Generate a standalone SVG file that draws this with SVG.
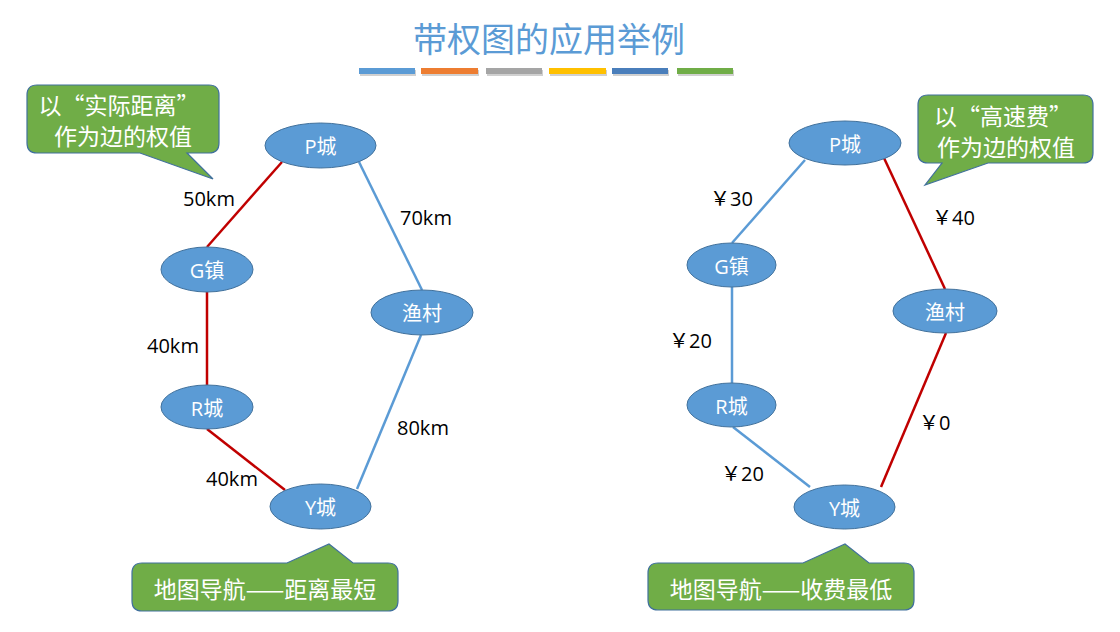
<svg xmlns="http://www.w3.org/2000/svg" width="1120" height="632" viewBox="0 0 1120 632">
<style>
.node ellipse{fill:#5B9BD5;stroke:#41719C;stroke-width:1}
.node text{fill:#fff;font-family:"Open Sans","Noto Sans CJK SC",sans-serif;font-size:20px;text-anchor:middle;dominant-baseline:central}
.blue{stroke:#5B9BD5;stroke-width:2.5;fill:none}
.red{stroke:#C00000;stroke-width:2.5;fill:none}
.lbl{fill:#000;font-family:"Open Sans","Noto Sans CJK SC",sans-serif;font-size:20px;dominant-baseline:central}
.callout path{fill:#70AD47;stroke:#41719C;stroke-width:1.2}
.callout text{fill:#fff;font-family:"Noto Sans CJK SC",sans-serif;font-size:23px;text-anchor:middle;dominant-baseline:central}
</style>
<rect width="1120" height="632" fill="#fff"/>
<g id="title">
<text x="549" y="37" fill="#5B9BD5" font-family="Noto Sans CJK SC, sans-serif" font-size="34" text-anchor="middle" dominant-baseline="central">带权图的应用举例</text>
<g fill="#000" opacity="0.18">
<rect x="360" y="70" width="56" height="6"/><rect x="422" y="70" width="57" height="6"/><rect x="487" y="70" width="56" height="6"/><rect x="550" y="70" width="57" height="6"/><rect x="613" y="70" width="56" height="6"/><rect x="678" y="70" width="56" height="6"/>
</g>
<rect x="359" y="68" width="56" height="6" fill="#5B9BD5"/>
<rect x="421" y="68" width="57" height="6" fill="#ED7D31"/>
<rect x="486" y="68" width="56" height="6" fill="#A5A5A5"/>
<rect x="549" y="68" width="57" height="6" fill="#FFC000"/>
<rect x="612" y="68" width="56" height="6" fill="#4A7EBB"/>
<rect x="677" y="68" width="56" height="6" fill="#70AD47"/>
</g>
<g id="connectors">
<line class="red" x1="282" y1="162" x2="207" y2="247"/>
<line class="blue" x1="359" y1="162" x2="422" y2="290"/>
<line class="red" x1="207" y1="292" x2="207" y2="385"/>
<line class="red" x1="207" y1="429" x2="285" y2="490"/>
<line class="blue" x1="421" y1="335" x2="357" y2="489"/>
<line class="blue" x1="805" y1="160" x2="732" y2="243"/>
<line class="red" x1="884" y1="158" x2="945" y2="289"/>
<line class="blue" x1="732" y1="287" x2="732" y2="383"/>
<line class="blue" x1="733" y1="427" x2="810" y2="487"/>
<line class="red" x1="946" y1="333" x2="881" y2="487"/>
</g>
<g id="edge-labels">
<text class="lbl" x="183" y="198">50km</text>
<text class="lbl" x="400" y="217">70km</text>
<text class="lbl" x="147" y="345">40km</text>
<text class="lbl" x="397" y="427">80km</text>
<text class="lbl" x="206" y="478">40km</text>
<text class="lbl" x="710" y="198">￥30</text>
<text class="lbl" x="932" y="217">￥40</text>
<text class="lbl" x="669" y="340">￥20</text>
<text class="lbl" x="919" y="422">￥0</text>
<text class="lbl" x="721" y="473">￥20</text>
</g>
<g id="L-P" class="node"><ellipse cx="320.5" cy="145.5" rx="55.5" ry="22.5"/><text x="320.5" y="146">P城</text></g>
<g id="L-G" class="node"><ellipse cx="207" cy="269.5" rx="46" ry="22.5"/><text x="207" y="270">G镇</text></g>
<g id="L-Yu" class="node"><ellipse cx="422" cy="312.5" rx="51" ry="22.5"/><text x="422" y="313">渔村</text></g>
<g id="L-R" class="node"><ellipse cx="207" cy="407" rx="46" ry="22"/><text x="207" y="408">R城</text></g>
<g id="L-Y" class="node"><ellipse cx="320.5" cy="506.5" rx="50.5" ry="22.5"/><text x="320.5" y="507">Y城</text></g>
<g id="R-P" class="node"><ellipse cx="845" cy="143" rx="56" ry="22"/><text x="845" y="144">P城</text></g>
<g id="R-G" class="node"><ellipse cx="731.5" cy="265" rx="44.5" ry="22"/><text x="731.5" y="266">G镇</text></g>
<g id="R-Yu" class="node"><ellipse cx="945" cy="311" rx="52" ry="22"/><text x="945" y="312">渔村</text></g>
<g id="R-R" class="node"><ellipse cx="731.5" cy="405" rx="44.5" ry="22"/><text x="731.5" y="406">R城</text></g>
<g id="R-Y" class="node"><ellipse cx="844.5" cy="507" rx="50.5" ry="22"/><text x="844.5" y="508">Y城</text></g>
<g id="callout-tl" class="callout">
<path d="M37,85 H209 Q219,85 219,95 V143 Q219,153 209,153 H187 L213,179 L140,153 H37 Q27,153 27,143 V95 Q27,85 37,85 Z"/>
<text x="119" y="104">以“实际距离”</text>
<text x="123" y="135">作为边的权值</text>
</g>
<g id="callout-tr" class="callout">
<path d="M928,95 H1083 Q1093,95 1093,105 V153 Q1093,163 1083,163 H988 L925,185 L942,163 H928 Q918,163 918,153 V105 Q918,95 928,95 Z"/>
<text x="1003" y="115">以“高速费”</text>
<text x="1006" y="146">作为边的权值</text>
</g>
<g id="callout-bl" class="callout">
<path d="M142,563 H287 L329,544 L353,563 H388 Q398,563 398,573 V601 Q398,611 388,611 H142 Q132,611 132,601 V573 Q132,563 142,563 Z"/>
<text x="265" y="588">地图导航——距离最短</text>
</g>
<g id="callout-br" class="callout">
<path d="M658,563 H803 L845,544 L869,563 H904 Q914,563 914,573 V600 Q914,610 904,610 H658 Q648,610 648,600 V573 Q648,563 658,563 Z"/>
<text x="781" y="588">地图导航——收费最低</text>
</g>
</svg>
